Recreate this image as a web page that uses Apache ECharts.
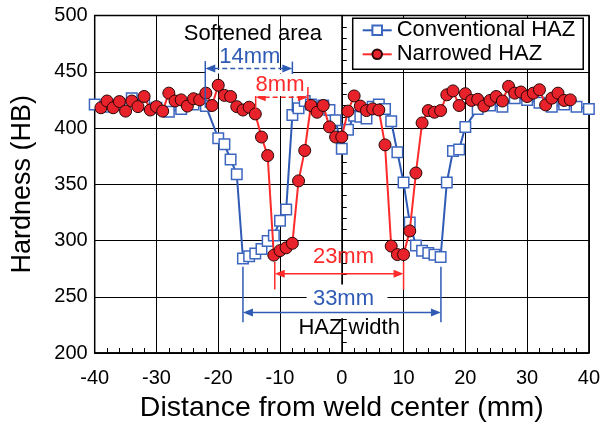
<!DOCTYPE html>
<html><head><meta charset="utf-8">
<script src="https://cdn.jsdelivr.net/npm/echarts@6/dist/echarts.min.js"></script>
<style>html,body{margin:0;padding:0;background:#fff}#c{width:603px;height:428px}</style>
</head><body><div id="c"></div>
<script>
// Conventional HAZ (blue squares)
const convX = [-40,-38,-36,-34,-32,-30,-28,-26,-24,-22,
  -20,-19,-18,-17,-16,-15,-14,-13,-12,-11,-10,-9,-8,-7,-6,-5,-4,-3,-2,-1,
  0,1,2,3,4,5,6,7,8,9,10,11,12,13,14,15,16,17,18,19,20,
  22,24,26,28,30,32,34,36,38,40];
const convY = [421,419,421,426.5,421,418,414.5,417,421,419.5,
  391,385.5,372,359,284,286,288.5,292.5,299.5,304.5,317.5,327.5,411.5,417.5,424,421,418,420,416,407,
  381.5,398.5,411,410,408.5,419,421,417,406,378.5,351.5,316,295.5,291,289,287.3,285.3,351.5,379.5,381,401,
  417,420,419,426.5,425,422.5,419,421,419,417];
// Narrowed HAZ (red circles)
const narX = [-39,-38,-37,-36,-35,-34,-33,-32,-31,-30,
  -29,-28,-27,-26,-25,-24,-23,-22,-21,-20,
  -19,-18,-17,-16,-15,-14,-13,-12,-11,-10,
  -9,-8,-7,-6,-5,-4,-3,-2,-1,0,
  1,2,3,4,5,6,7,8,9,10,
  11,12,13,14,15,16,17,18,19,20,
  21,22,23,24,25,26,27,28,29,30,
  31,32,33,34,35,36,37];
const narY = [418,424,418,423.5,415,424,419,428,416,419,
  415,431,424,425,419.5,426,425,431,420,438,
  429,428,419,416,418.5,412.5,392,375.5,287,291,
  293.5,297.5,353,380,420,414,420,401,392,392,
  415,428.5,419.5,415.5,417,416,385,295,287.5,287.5,
  308.5,360,404.5,415.5,414,415.5,429.5,433,420,430.5,
  424.5,425.5,419.5,424.5,428,424,437,431,432,428,
  431,434,420.5,426.5,431,424.5,425];
const seriesNames = ['Conventional HAZ','Narrowed HAZ'];
const xTitle = 'Distance from weld center (mm)';
const yTitle = 'Hardness (HB)';

const FONT = '"Liberation Sans", Arial, sans-serif';
const BLUE = '#2f5bb5';
const RED = '#ff2a2a';
const chart = echarts.init(document.getElementById('c'));
chart.setOption({
  animation:false,
  backgroundColor:'#fff',
  textStyle:{fontFamily:FONT},
  grid:{left:94.7, right:12.5, top:15.5, bottom:73.2, show:true, borderColor:'#000', borderWidth:1.5, backgroundColor:'transparent'},
  xAxis:{type:'value', min:-40, max:40, interval:10,
    name:xTitle, nameLocation:'middle', nameGap:41,
    nameTextStyle:{fontSize:28.5, color:'#000', fontFamily:FONT},
    axisLine:{lineStyle:{color:'#000', width:1.5}},
    axisTick:{inside:true, length:5, lineStyle:{color:'#000'}},
    minorTick:{show:true, splitNumber:5, length:5, lineStyle:{color:'#000'}},
    splitLine:{show:true, lineStyle:{color:'#000', width:1}},
    axisLabel:{fontSize:20, color:'#000', margin:15, fontFamily:FONT}},
  yAxis:{type:'value', min:200, max:500, interval:50,
    name:yTitle, nameLocation:'middle', nameGap:59, nameRotate:90,
    nameTextStyle:{fontSize:27, color:'#000', fontFamily:FONT},
    axisLine:{show:true, lineStyle:{color:'#000', width:1.5}},
    axisTick:{show:true, inside:true, length:5, lineStyle:{color:'#000'}},
    minorTick:{show:true, splitNumber:5, length:5, lineStyle:{color:'#000'}},
    splitLine:{show:true, lineStyle:{color:'#000', width:1}},
    axisLabel:{fontSize:20, color:'#000', margin:7, fontFamily:FONT}},
  legend:{orient:'vertical', left:352.7, top:18.3, data:seriesNames,
    padding:[1,8,4,9], itemGap:2, itemWidth:29, itemHeight:12,
    backgroundColor:'#fff', borderColor:'#000', borderWidth:1.5, borderRadius:0,
    textStyle:{fontSize:22, color:'#000', lineHeight:22, fontFamily:FONT}},
  series:[
    {name:seriesNames[0], type:'line', data:convX.map((x,i)=>[x,convY[i]]),
      symbol:'rect', symbolSize:10.5, z:3,
      lineStyle:{color:BLUE, width:2},
      itemStyle:{color:'#fff', borderColor:'#3d66bf', borderWidth:1.5}},
    {name:seriesNames[1], type:'line', data:narX.map((x,i)=>[x,narY[i]]),
      symbol:'circle', symbolSize:12, z:4,
      lineStyle:{color:RED, width:2},
      itemStyle:{color:'#e8222a', borderColor:'#2a0505', borderWidth:1}}
  ]
});

function P(x,y){return chart.convertToPixel({gridIndex:0},[x,y]);}
const g = [];
function vline(x,y1,y2,color){const a=P(x,y1),b=P(x,y2);
  g.push({type:'line', z:50, shape:{x1:a[0],y1:a[1],x2:b[0],y2:b[1]}, style:{stroke:color, lineWidth:1.5}});}
function arrow(x1,x2,y,color,dashed){const a=P(x1,y),b=P(x2,y);const L=10,W=4;
  g.push({type:'line', z:50, shape:{x1:a[0]+L-1,y1:a[1],x2:b[0]-L+1,y2:b[1]}, style:{stroke:color, lineWidth:1.5, lineDash:dashed?[5,3]:null}});
  g.push({type:'polygon', z:50, shape:{points:[[a[0],a[1]],[a[0]+L,a[1]-W],[a[0]+L,a[1]+W]]}, style:{fill:color}});
  g.push({type:'polygon', z:50, shape:{points:[[b[0],b[1]],[b[0]-L,b[1]-W],[b[0]-L,b[1]+W]]}, style:{fill:color}});}
function label(x,y,txt,color,bg){const a=P(x,y);
  g.push({type:'text', z:60, x:a[0], y:a[1], style:{text:txt, fill:color, font:'22px '+FONT, textAlign:'center', textVerticalAlign:'middle', backgroundColor:bg||null, padding:bg?[0,2]:0}});}
function cover(x1,y1,x2,y2){const a=P(x1,y1),b=P(x2,y2);
  g.push({type:'rect', z:40, shape:{x:Math.min(a[0],b[0]),y:Math.min(a[1],b[1]),width:Math.abs(b[0]-a[0]),height:Math.abs(b[1]-a[1])}, style:{fill:'#fff'}});}

// softened area annotations
cover(-22.1,451.5,-8,448.5);
label(-14.4,483.8,'Softened area','#000');
vline(-22.1,459.5,418,BLUE); vline(-8,459,414,BLUE);
arrow(-22.1,-8,453,BLUE,true);
label(-14.9,463.2,'14mm',BLUE);
vline(-13.94,433.8,415.3,RED); vline(-5.49,436.4,421.4,RED);
arrow(-13.94,-5.49,427.4,RED,true);
label(-10,438.2,'8mm',RED,'#fff');
// HAZ width annotations
cover(-5.7,261,7.4,231);
vline(-10.85,281,256.4,RED); vline(10,281,256.4,RED);
arrow(-10.85,10,270.5,RED,false);
label(0.27,285,'23mm',RED);
vline(-16,276.7,227.3,BLUE); vline(16.05,276.7,227.3,BLUE);
arrow(-16,16.05,236,BLUE,false);
label(0.27,248.5,'33mm',BLUE);
label(1.2,222,'HAZ width','#000');
chart.setOption({graphic:g});
</script></body></html>
